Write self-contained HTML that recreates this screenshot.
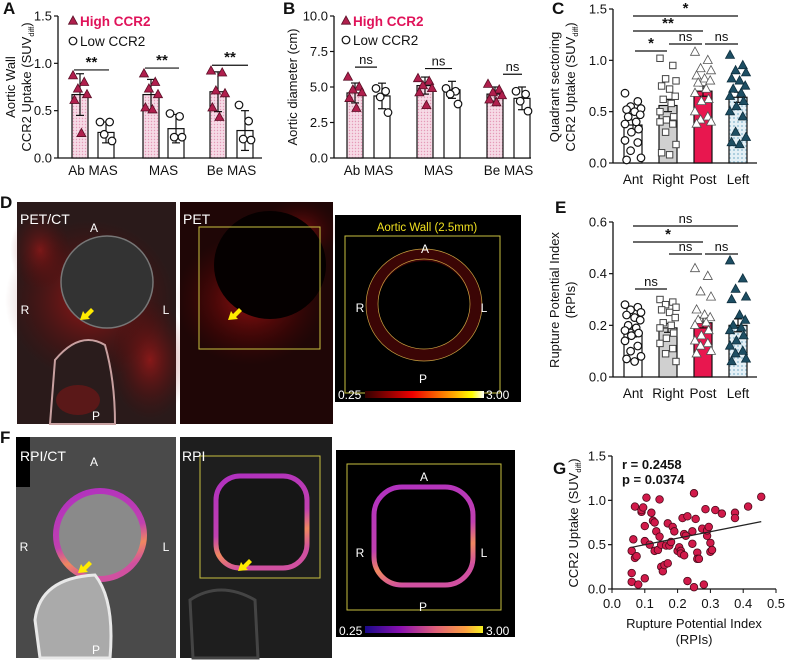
<!DOCTYPE html>
<html><head><meta charset="utf-8"><style>
body{margin:0;background:#fff;width:790px;height:662px;overflow:hidden}
svg{font-family:"Liberation Sans",Arial,sans-serif}
</style></head><body>
<svg id="s" width="790" height="662" viewBox="0 0 790 662" xmlns="http://www.w3.org/2000/svg">
<defs>
<pattern id="pinkp" width="3" height="3" patternUnits="userSpaceOnUse"><rect width="3" height="3" fill="#f6dbe6"/><circle cx="1.5" cy="1.5" r="0.7" fill="#e59ab8"/></pattern>
<pattern id="bluep" width="4" height="4" patternUnits="userSpaceOnUse"><rect width="4" height="4" fill="#e4f0f6"/><circle cx="2" cy="2" r="1" fill="#9cc3d6"/></pattern>
<radialGradient id="redglow"><stop offset="0" stop-color="#d81818" stop-opacity="0.9"/><stop offset="1" stop-color="#600" stop-opacity="0"/></radialGradient>
<linearGradient id="hot" x1="0" x2="1"><stop offset="0" stop-color="#300"/><stop offset="0.4" stop-color="#e00"/><stop offset="0.75" stop-color="#fa0"/><stop offset="0.9" stop-color="#ff0"/><stop offset="1" stop-color="#fff"/></linearGradient>
<linearGradient id="plasma" x1="0" x2="1"><stop offset="0" stop-color="#1a0a8a"/><stop offset="0.3" stop-color="#8a10b0"/><stop offset="0.6" stop-color="#e0607a"/><stop offset="0.85" stop-color="#fca040"/><stop offset="1" stop-color="#f5f020"/></linearGradient>
<linearGradient id="ringg" x1="0" y1="0" x2="0.3" y2="1"><stop offset="0" stop-color="#b030c0"/><stop offset="0.6" stop-color="#c040b0"/><stop offset="0.8" stop-color="#f08860"/><stop offset="1" stop-color="#d050a0"/></linearGradient>
</defs>
<g id="g"></g>
</svg>
<script>
// ---------- Panel A data ----------
const aCats=["Ab MAS","MAS","Be MAS"];
const aHighMean=[0.67,0.67,0.70];
const aHighSD=[0.22,0.16,0.21];
const aLowMean=[0.27,0.31,0.29];
const aLowSD=[0.11,0.15,0.21];
const aHighPts=[[0.87,0.80,0.73,0.67,0.61,0.26],[0.89,0.80,0.73,0.67,0.53,0.51],[0.92,0.90,0.71,0.68,0.53,0.43]];
const aLowPts=[[0.38,0.38,0.25,0.18],[0.47,0.44,0.22,0.22],[0.56,0.39,0.20,0.19]];
const aTicks=[0,0.5,1.0,1.5];
// ---------- Panel B data ----------
const bHighMean=[4.58,5.1,4.5];
const bHighSD=[0.7,0.6,0.5];
const bLowMean=[4.37,4.8,4.2];
const bLowSD=[0.9,0.6,0.8];
const bHighPts=[[5.7,5.0,4.8,4.6,4.2,3.5],[5.6,5.4,5.1,4.9,4.6,3.7],[5.2,4.8,4.6,4.4,4.1,3.9]];
const bLowPts=[[4.9,4.7,4.3,3.2],[4.9,4.7,4.5,3.8],[4.7,4.5,4.0,3.3]];
const bTicks=[0,2.5,5.0,7.5,10.0];
// ---------- Panel C data ----------
const cCats=["Ant","Right","Post","Left"];
const cMean=[0.37,0.56,0.70,0.64];
const cSEM=[0.05,0.06,0.05,0.05];
const cPts=[[0.68,0.6,0.55,0.53,0.52,0.5,0.47,0.45,0.4,0.38,0.33,0.3,0.22,0.2,0.12,0.05,0.03],
 [1.02,0.95,0.82,0.8,0.75,0.72,0.65,0.62,0.58,0.5,0.45,0.42,0.4,0.38,0.3,0.18,0.1,0.08],
 [1.08,1.0,0.92,0.9,0.85,0.82,0.8,0.78,0.72,0.68,0.62,0.6,0.5,0.45,0.42,0.4,0.38],
 [1.05,0.95,0.9,0.88,0.82,0.8,0.75,0.72,0.68,0.65,0.6,0.55,0.5,0.45,0.3,0.25,0.2,0.18]];
const cTicks=[0,0.5,1.0,1.5];
// ---------- Panel E data ----------
const eMean=[0.17,0.19,0.21,0.20];
const eSEM=[0.015,0.017,0.02,0.025];
const ePts=[[0.28,0.27,0.26,0.25,0.24,0.23,0.22,0.2,0.19,0.18,0.17,0.16,0.14,0.12,0.1,0.08,0.07,0.06],
 [0.3,0.29,0.28,0.27,0.26,0.25,0.23,0.21,0.2,0.19,0.17,0.15,0.13,0.11,0.09,0.06],
 [0.42,0.39,0.33,0.31,0.26,0.24,0.23,0.22,0.21,0.2,0.18,0.16,0.14,0.13,0.12,0.1,0.09],
 [0.45,0.38,0.34,0.31,0.3,0.24,0.22,0.2,0.19,0.18,0.16,0.14,0.12,0.1,0.09,0.07,0.06]];
const eTicks=[0,0.2,0.4,0.6];
// ---------- Panel G data ----------
const gX=[0.06,0.06,0.06,0.065,0.07,0.07,0.075,0.08,0.09,0.09,0.095,0.1,0.1,0.1,0.105,0.115,0.12,0.125,0.13,0.13,0.135,0.14,0.145,0.145,0.15,0.15,0.155,0.16,0.165,0.17,0.17,0.175,0.18,0.185,0.19,0.2,0.205,0.21,0.21,0.215,0.22,0.22,0.225,0.23,0.23,0.245,0.245,0.25,0.25,0.255,0.26,0.26,0.265,0.275,0.28,0.285,0.29,0.29,0.295,0.3,0.3,0.305,0.315,0.335,0.375,0.375,0.415,0.455];
const gY=[0.43,0.18,0.08,0.56,0.93,0.35,0.37,0.05,0.87,0.89,0.92,0.71,0.54,0.12,1.03,0.5,0.86,0.77,0.75,0.43,0.65,0.44,1.01,0.59,0.5,0.25,0.2,0.27,0.49,0.74,0.29,0.49,0.53,0.7,0.65,0.43,0.47,0.43,0.4,0.8,0.62,0.38,0.6,0.82,0.09,0.51,0.65,1.08,0.02,0.79,0.41,0.34,0.34,0.68,0.05,0.9,0.6,0.66,0.7,0.42,0.52,0.44,0.89,0.85,0.86,0.8,0.93,1.04];
const gFit=[[0.06,0.47],[0.455,0.76]];
const gXTicks=[0,0.1,0.2,0.3,0.4,0.5];
const gYTicks=[0,0.5,1.0,1.5];

const NS="http://www.w3.org/2000/svg";
const root=document.getElementById('g');
function el(tag,attrs,parent){const e=document.createElementNS(NS,tag);for(const k in attrs)e.setAttribute(k,attrs[k]);(parent||root).appendChild(e);return e;}
function txt(x,y,s,size,opts,parent){const t=el('text',Object.assign({x:x,y:y,'font-size':size,fill:'#111'},opts||{}),parent);t.textContent=s;return t;}
function marker(shape,x,y,fill,stroke,parent){
  if(shape==='tri')return el('polygon',{points:`${x},${y-5} ${x-4.5},${y+3.2} ${x+4.5},${y+3.2}`,fill:fill,stroke:stroke,'stroke-width':0.8},parent);
  if(shape==='sq')return el('rect',{x:x-3.2,y:y-3.2,width:6.4,height:6.4,fill:fill,stroke:stroke,'stroke-width':1},parent);
  return el('circle',{cx:x,cy:y,r:3.8,fill:fill,stroke:stroke,'stroke-width':1.2},parent);
}
function yAxis(g,ax,yTop,yBot,vmax,ticks,fmt){
  const ys=v=>yBot-(v/vmax)*(yBot-yTop);
  el('line',{x1:ax,y1:yTop,x2:ax,y2:yBot,stroke:'#111','stroke-width':1.3},g);
  ticks.forEach(t=>{const y=ys(t);el('line',{x1:ax-4,y1:y,x2:ax,y2:y,stroke:'#111','stroke-width':1.2},g);
    txt(ax-6,y+4.5,fmt(t),13,{'text-anchor':'end'},g);});
  return ys;
}
function bar(g,cx,w,ys,mean,err,fill){
  el('rect',{x:cx-w/2,y:ys(mean),width:w,height:ys(0)-ys(mean),fill:fill,stroke:'#111','stroke-width':1.2},g);
  el('line',{x1:cx,y1:ys(mean+err),x2:cx,y2:ys(Math.max(0,mean-err)),stroke:'#111','stroke-width':1.2},g);
  el('line',{x1:cx-4,y1:ys(mean+err),x2:cx+4,y2:ys(mean+err),stroke:'#111','stroke-width':1.2},g);
  el('line',{x1:cx-4,y1:ys(mean-err),x2:cx+4,y2:ys(mean-err),stroke:'#111','stroke-width':1.2},g);
}
const jit=[-1,0.6,-0.3,1,-0.8,0.2,0.9,-0.6,0.4,-1,0.7,-0.2];
function pts(g,cx,ys,arr,shape,fill,stroke,spread){
  arr.forEach((v,i)=>{const off=jit[i%jit.length]*spread;marker(shape,cx+off,ys(v),fill,stroke,g);});
}
function sig(g,x1,x2,y,s){el('line',{x1:x1,y1:y,x2:x2,y2:y,stroke:'#111','stroke-width':1.2},g);txt((x1+x2)/2,y-3,s,s==='ns'?13:15,{'text-anchor':'middle','font-weight':s==='ns'?'normal':'bold'},g);}
function label(x,y,s){const t=txt(x,y,s,17,{'font-weight':'bold'});}
function ytitle(g,x,y,s,sub){const t=txt(0,0,s,13,{transform:`translate(${x},${y}) rotate(-90)`,'text-anchor':'middle'},g);
  if(sub){const sp=el('tspan',{'font-size':7.5,dy:3},t);sp.textContent='diff';const sp2=el('tspan',{dy:-3},t);sp2.textContent=')';}return t;}
const f1=v=>v.toFixed(1);
const HC='#b01f4d', HT='#e0135a';

// Panel A
(function(){
  const g=el('g',{});
  label(3,14,'A');
  const ys=yAxis(g,58,16,158,1.5,aTicks,f1);
  el('line',{x1:58,y1:158,x2:262,y2:158,stroke:'#111','stroke-width':1.3},g);
  const hx=[80,151,218],lx=[106,176,245];
  aCats.forEach((c,i)=>{
    bar(g,hx[i],16,ys,aHighMean[i],aHighSD[i],'url(#pinkp)');
    bar(g,lx[i],16,ys,aLowMean[i],aLowSD[i],'#fff');
    pts(g,hx[i],ys,aHighPts[i],'tri',HC,'#5a0f26',7);
    pts(g,lx[i],ys,aLowPts[i],'circ','#fff','#111',6);
    txt((hx[i]+lx[i])/2,175,c,13.5,{'text-anchor':'middle'},g);
    sig(g,hx[i]-6,lx[i]+3,ys(Math.max(...aHighPts[i])+0.06),'**');
  });
  marker('tri',73,21,HC,'#5a0f26',g);txt(80,26,'High CCR2',13.5,{'font-weight':'bold',fill:HT},g);
  marker('circ',73,41,'#fff','#111',g);txt(80,46,'Low CCR2',13.5,{},g);
  ytitle(g,15,87,'Aortic Wall');
  ytitle(g,31,87,'CCR2 Uptake (SUV',true);
})();

// Panel B
(function(){
  const g=el('g',{});
  label(283,14,'B');
  const ys=yAxis(g,334,16,158,10,bTicks,f1);
  el('line',{x1:334,y1:158,x2:531,y2:158,stroke:'#111','stroke-width':1.3},g);
  const hx=[355,425,495],lx=[382,452,522];
  aCats.forEach((c,i)=>{
    bar(g,hx[i],16,ys,bHighMean[i],bHighSD[i],'url(#pinkp)');
    bar(g,lx[i],16,ys,bLowMean[i],bLowSD[i],'#fff');
    pts(g,hx[i],ys,bHighPts[i],'tri',HC,'#5a0f26',7);
    pts(g,lx[i],ys,bLowPts[i],'circ','#fff','#111',6);
    txt((hx[i]+lx[i])/2,175,c,13.5,{'text-anchor':'middle'},g);
    sig(g,hx[i]+(i==2?8:0),lx[i]-(i==0?5:0),ys(Math.max(...bHighPts[i])+0.7),'ns');
  });
  marker('tri',346,21,HC,'#5a0f26',g);txt(353,26,'High CCR2',13.5,{'font-weight':'bold',fill:HT},g);
  marker('circ',346,40,'#fff','#111',g);txt(353,45,'Low CCR2',13.5,{},g);
  ytitle(g,297,87,'Aortic diameter (cm)');
})();

const qx=[633,668,703,738];
const qFill=['#fff','#d0d0d0','#e8174f','url(#bluep)'];
const qShape=['circ','sq','tri','tri'];
const qPF=['#fff','#fff','#fff','#1d4e63'];
const qPS=['#111','#444','#555','#0e2f3e'];
// Panel C
(function(){
  const g=el('g',{});
  label(552,14,'C');
  const ys=yAxis(g,613,9,163,1.5,cTicks,f1);
  el('line',{x1:613,y1:163,x2:757,y2:163,stroke:'#111','stroke-width':1.3},g);
  cCats.forEach((c,i)=>{
    bar(g,qx[i],18,ys,cMean[i],cSEM[i],qFill[i]);
    pts(g,qx[i],ys,cPts[i],qShape[i],qPF[i],qPS[i],8);
    txt(qx[i],184,c,13.5,{'text-anchor':'middle'},g);
  });
  sig(g,633,738,16,'*');sig(g,633,703,31,'**');sig(g,635,667,51,'*');sig(g,669,702,44,'ns');sig(g,705,738,44,'ns');
  ytitle(g,559,87,'Quadrant sectoring');
  ytitle(g,575,87,'CCR2 Uptake (SUV',true);
})();

// Panel E
(function(){
  const g=el('g',{});
  label(555,213,'E');
  const ys=yAxis(g,613,222,377,0.6,eTicks,f1);
  el('line',{x1:613,y1:377,x2:757,y2:377,stroke:'#111','stroke-width':1.3},g);
  cCats.forEach((c,i)=>{
    bar(g,qx[i],18,ys,eMean[i],eSEM[i],qFill[i]);
    pts(g,qx[i],ys,ePts[i],qShape[i],qPF[i],qPS[i],8);
    txt(qx[i],398,c,13.5,{'text-anchor':'middle'},g);
  });
  sig(g,633,738,226,'ns');sig(g,633,703,242,'*');sig(g,669,702,254,'ns');sig(g,705,738,254,'ns');sig(g,635,667,289,'ns');
  ytitle(g,559,300,'Rupture Potential Index');
  ytitle(g,575,300,'(RPIs)');
})();

// Panel G
(function(){
  const g=el('g',{});
  label(553,474,'G');
  const ys=yAxis(g,612,456,589,1.5,gYTicks,f1);
  const xs=v=>612+v/0.5*(776-612);
  el('line',{x1:612,y1:589,x2:776,y2:589,stroke:'#111','stroke-width':1.3},g);
  gXTicks.forEach(t=>{el('line',{x1:xs(t),y1:589,x2:xs(t),y2:593,stroke:'#111'},g);txt(xs(t),608,t.toFixed(1),13,{'text-anchor':'middle'},g);});
  gX.forEach((x,i)=>{const c=el('circle',{cx:xs(x),cy:ys(gY[i]),r:3.8,fill:'#d11a4a',stroke:'#4a0a1a','stroke-width':0.8},g);});
  el('line',{x1:xs(gFit[0][0]),y1:ys(gFit[0][1]),x2:xs(gFit[1][0]),y2:ys(gFit[1][1]),stroke:'#222','stroke-width':1.2},g);
  txt(622,469,'r = 0.2458',13,{'font-weight':'bold'},g);
  txt(622,484,'p = 0.0374',13,{'font-weight':'bold'},g);
  txt(694,628,'Rupture Potential Index',13,{'text-anchor':'middle'},g);
  txt(694,644,'(RPIs)',13,{'text-anchor':'middle'},g);
  ytitle(g,578,523,'CCR2 Uptake (SUV',true);
})();

// Image panels
function imgPanel(name,x,y,w,h,bg){const g=el('g',{});
  el('rect',{x:x,y:y,width:w,height:h,fill:bg},g);return g;}
function wt(g,x,y,s,sz,col){return txt(x,y,s,sz||12,{fill:col||'#fff','text-anchor':'middle'},g);}
function arrow(g,x,y){el('polygon',{points:`${x},${y} ${x+3},${y-9} ${x+5},${y-6} ${x+11},${y-12} ${x+14},${y-9} ${x+8},${y-3} ${x+10},${y-1}`,fill:'#ffeb00'},g);}
// D
label(0,208,'D');
(function(){const g=imgPanel('pet-ct-image',17,202,159,222,'#2a1a1a');
  el('ellipse',{cx:90,cy:300,rx:85,ry:80,fill:'url(#redglow)',opacity:0.7},g);
  el('ellipse',{cx:150,cy:360,rx:40,ry:60,fill:'url(#redglow)',opacity:0.6},g);
  el('ellipse',{cx:40,cy:250,rx:30,ry:40,fill:'url(#redglow)',opacity:0.5},g);
  el('circle',{cx:107,cy:282,r:46,fill:'#333',stroke:'#777','stroke-width':1.5},g);
  el('path',{d:'M50,424 L55,360 Q80,330 105,345 Q115,380 115,424 Z',fill:'#2a1c1c',stroke:'#c8a0a0','stroke-width':2},g);
  el('ellipse',{cx:78,cy:400,rx:22,ry:15,fill:'#5a1818'},g);
  txt(20,224,'PET/CT',14,{fill:'#fff'},g);wt(g,94,232,'A');wt(g,25,314,'R');wt(g,166,314,'L');wt(g,96,420,'P');arrow(g,80,320);
})();
(function(){const g=imgPanel('pet-image',180,202,153,222,'#1f0606');
  el('ellipse',{cx:250,cy:300,rx:75,ry:65,fill:'url(#redglow)',opacity:0.7},g);
  el('ellipse',{cx:300,cy:230,rx:40,ry:30,fill:'url(#redglow)',opacity:0.5},g);
  el('ellipse',{cx:270,cy:265,rx:56,ry:54,fill:'#050000'},g);
  el('rect',{x:199,y:227,width:121,height:122,fill:'none',stroke:'#c8c040','stroke-width':1},g);
  txt(183,224,'PET',14,{fill:'#fff'},g);arrow(g,228,320);
})();
(function(){const g=imgPanel('aortic-wall-pet-polar',335,215,186,187,'#000');
  el('rect',{x:345,y:236,width:155,height:157,fill:'none',stroke:'#c8c040','stroke-width':1},g);
  el('ellipse',{cx:424,cy:305,rx:52,ry:50,fill:'none',stroke:'#4a0606','stroke-width':12,opacity:0.8},g);
  el('ellipse',{cx:424,cy:305,rx:58,ry:56,fill:'none',stroke:'#c8a040','stroke-width':0.7},g);
  el('ellipse',{cx:424,cy:304,rx:46,ry:45,fill:'none',stroke:'#c8a040','stroke-width':0.7},g);
  wt(g,427,231,'Aortic Wall (2.5mm)',11.5,'#f0e020');wt(g,425,253,'A');wt(g,360,312,'R');wt(g,484,312,'L');wt(g,423,383,'P');
  el('rect',{x:365,y:391,width:119,height:7,fill:'url(#hot)'},g);
  txt(338,399,'0.25',12,{fill:'#fff'},g);txt(486,399,'3.00',12,{fill:'#fff'},g);
})();
// F
label(0,443,'F');
(function(){const g=imgPanel('rpi-ct-image',16,437,160,221,'#4a4a4a');
  el('circle',{cx:100,cy:535,r:45,fill:'#8a8a8a'},g);
  el('circle',{cx:100,cy:535,r:44,fill:'none',stroke:'url(#ringg)','stroke-width':6},g);
  el('path',{d:'M40,658 L35,620 Q40,578 95,575 Q115,600 110,658 Z',fill:'#aaa',stroke:'#e8e8e8','stroke-width':3},g);
  el('rect',{x:16,y:437,width:14,height:50,fill:'#000'},g);
  txt(20,461,'RPI/CT',14,{fill:'#fff'},g);wt(g,94,466,'A');wt(g,24,551,'R');wt(g,166,551,'L');wt(g,96,654,'P');arrow(g,78,573);
})();
(function(){const g=imgPanel('rpi-image',180,437,152,221,'#1e1e1e');
  el('path',{d:'M193,658 L190,600 Q220,580 255,600 L258,658 Z',fill:'none',stroke:'#444','stroke-width':3},g);
  el('rect',{x:200,y:456,width:120,height:122,fill:'none',stroke:'#c8c040','stroke-width':1},g);
  el('rect',{x:216,y:476,width:91,height:92,rx:24,fill:'#161616',stroke:'url(#ringg)','stroke-width':5},g);
  txt(182,461,'RPI',14,{fill:'#fff'},g);arrow(g,238,571);
})();
(function(){const g=imgPanel('rpi-polar-map',336,450,179,187,'#000');
  el('rect',{x:347,y:464,width:154,height:146,fill:'none',stroke:'#c8c040','stroke-width':1},g);
  el('rect',{x:374,y:487,width:99,height:98,rx:28,fill:'none',stroke:'url(#ringg)','stroke-width':5},g);
  wt(g,424,481,'A');wt(g,360,557,'R');wt(g,484,557,'L');wt(g,423,611,'P');
  el('rect',{x:365,y:626,width:118,height:7,fill:'url(#plasma)'},g);
  txt(339,635,'0.25',12,{fill:'#fff'},g);txt(486,635,'3.00',12,{fill:'#fff'},g);
})();
</script>
</body></html>
